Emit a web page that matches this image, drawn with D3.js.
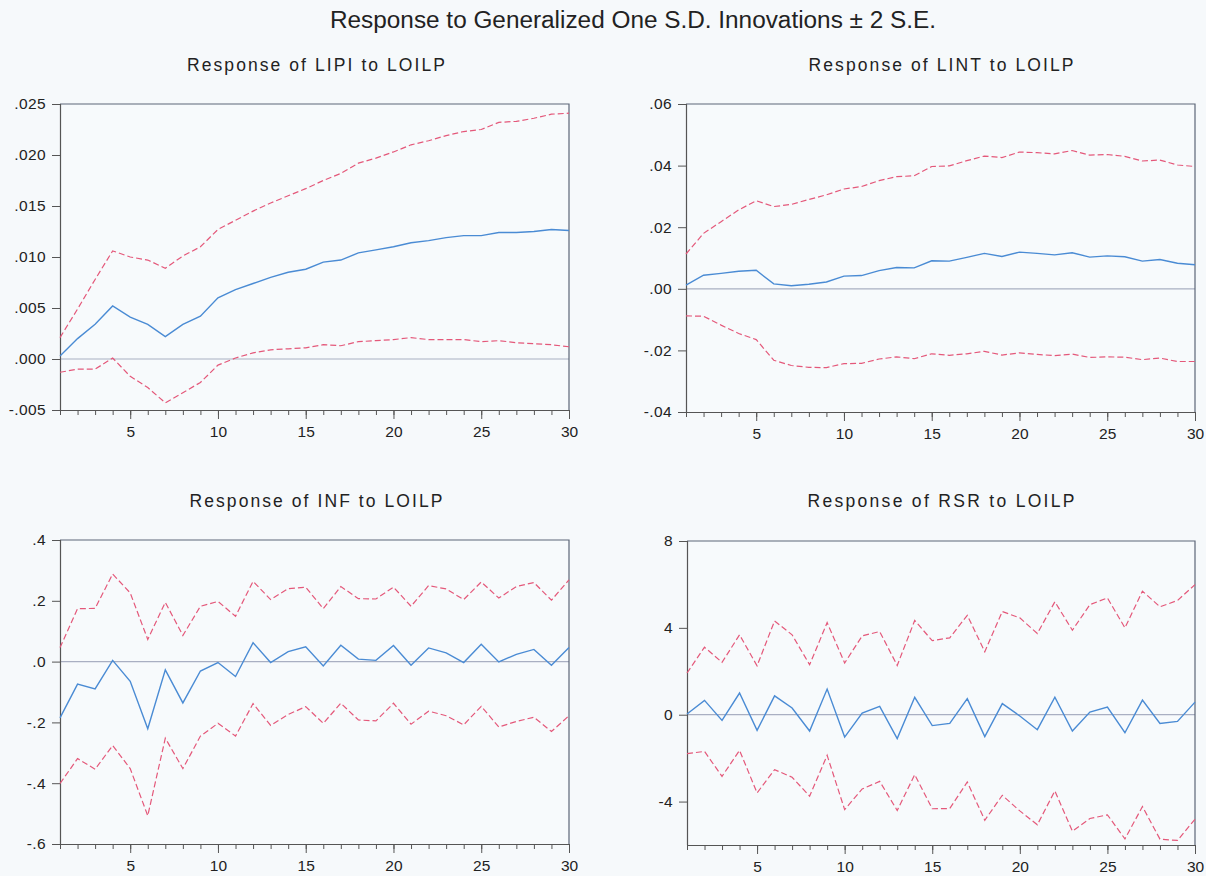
<!DOCTYPE html>
<html><head><meta charset="utf-8">
<script src="https://cdn.jsdelivr.net/npm/d3@7"></script>
<style>
html,body{margin:0;padding:0;background:#f6f9fb;}
svg{display:block;font-family:"Liberation Sans",Arial,sans-serif;}
</style></head><body>
<svg id="chart" width="1206" height="876"></svg>
<script>
const periods = [1,2,3,4,5,6,7,8,9,10,11,12,13,14,15,16,17,18,19,20,21,22,23,24,25,26,27,28,29,30];

const lipiResp  = [0.0003,0.0020,0.0034,0.0052,0.0041,0.0034,0.0022,0.0034,0.0042,0.0060,0.0068,0.0074,0.0080,0.0085,0.0088,0.0095,0.0097,0.0104,0.0107,0.0110,0.0114,0.0116,0.0119,0.0121,0.0121,0.0124,0.0124,0.0125,0.0127,0.0126];
const lipiUpper = [0.0021,0.0049,0.0078,0.0106,0.0100,0.0097,0.0089,0.0101,0.0110,0.0127,0.0136,0.0145,0.0153,0.0160,0.0167,0.0175,0.0182,0.0192,0.0197,0.0203,0.0210,0.0214,0.0219,0.0223,0.0225,0.0232,0.0233,0.0236,0.0240,0.0241];
const lipiLower = [-0.0013,-0.0010,-0.0010,0.0001,-0.0017,-0.0028,-0.0043,-0.0033,-0.0023,-0.0006,0.0001,0.0006,0.0009,0.0010,0.0011,0.0014,0.0013,0.0017,0.0018,0.0019,0.0021,0.0019,0.0019,0.0019,0.0017,0.0018,0.0016,0.0015,0.0014,0.0012];

const lintResp  = [0.0012,0.0044,0.0050,0.0057,0.0060,0.0016,0.0010,0.0015,0.0022,0.0041,0.0043,0.0059,0.0069,0.0068,0.0091,0.0090,0.0102,0.0115,0.0105,0.0119,0.0115,0.0110,0.0117,0.0103,0.0107,0.0104,0.0090,0.0095,0.0083,0.0078];
const lintUpper = [0.0113,0.0180,0.0218,0.0256,0.0286,0.0267,0.0274,0.0290,0.0305,0.0324,0.0332,0.0351,0.0364,0.0367,0.0397,0.0399,0.0416,0.0431,0.0426,0.0444,0.0442,0.0438,0.0449,0.0434,0.0436,0.0430,0.0415,0.0418,0.0402,0.0397];
const lintLower = [-0.0088,-0.0089,-0.0118,-0.0145,-0.0165,-0.0232,-0.0249,-0.0255,-0.0256,-0.0243,-0.0242,-0.0228,-0.0221,-0.0227,-0.0211,-0.0216,-0.0211,-0.0203,-0.0215,-0.0208,-0.0213,-0.0217,-0.0212,-0.0223,-0.0221,-0.0222,-0.0230,-0.0225,-0.0236,-0.0236];

const infResp  = [-0.185,-0.074,-0.090,0.004,-0.065,-0.221,-0.027,-0.136,-0.031,-0.003,-0.049,0.062,-0.003,0.033,0.049,-0.014,0.054,0.008,0.004,0.053,-0.012,0.045,0.029,-0.003,0.057,-0.001,0.024,0.040,-0.012,0.046];
const infUpper = [0.046,0.174,0.175,0.288,0.226,0.073,0.195,0.086,0.182,0.198,0.149,0.264,0.204,0.240,0.245,0.174,0.247,0.207,0.206,0.245,0.182,0.250,0.239,0.204,0.262,0.209,0.247,0.260,0.202,0.269];
const infLower = [-0.401,-0.319,-0.354,-0.276,-0.352,-0.507,-0.252,-0.352,-0.245,-0.203,-0.245,-0.138,-0.210,-0.174,-0.148,-0.203,-0.137,-0.192,-0.195,-0.137,-0.206,-0.163,-0.178,-0.208,-0.147,-0.215,-0.197,-0.183,-0.230,-0.178];

const rsrResp  = [0.03,0.66,-0.26,1.00,-0.72,0.87,0.31,-0.75,1.18,-1.03,0.08,0.38,-1.10,0.80,-0.50,-0.40,0.74,-1.01,0.51,-0.06,-0.69,0.81,-0.75,0.12,0.35,-0.83,0.67,-0.40,-0.31,0.58];
const rsrUpper = [1.92,3.11,2.41,3.68,2.25,4.32,3.68,2.30,4.24,2.38,3.63,3.83,2.27,4.34,3.41,3.54,4.58,2.90,4.75,4.46,3.74,5.20,3.89,5.07,5.38,4.00,5.69,4.97,5.26,5.99];
const rsrLower = [-1.79,-1.69,-2.84,-1.64,-3.60,-2.53,-2.88,-3.75,-1.87,-4.37,-3.42,-3.07,-4.41,-2.76,-4.33,-4.32,-3.10,-4.86,-3.71,-4.43,-5.07,-3.51,-5.36,-4.78,-4.61,-5.72,-4.23,-5.73,-5.79,-4.81];

const mainTitle = "Response to Generalized One S.D. Innovations \u00b1 2 S.E.";
const panelTitles = ["Response of LIPI to LOILP","Response of LINT to LOILP","Response of INF to LOILP","Response of RSR to LOILP"];
const xTickValues = [5,10,15,20,25,30];
const yTicksLIPI = [-0.005,0.000,0.005,0.010,0.015,0.020,0.025];
const yTicksLINT = [-0.04,-0.02,0.00,0.02,0.04,0.06];
const yTicksINF  = [-0.6,-0.4,-0.2,0.0,0.2,0.4];
const yTicksRSR  = [-4,0,4,8];
const yLabelsLIPI = ["-.005",".000",".005",".010",".015",".020",".025"];
const yLabelsLINT = ["-.04","-.02",".00",".02",".04",".06"];
const yLabelsINF  = ["-.6","-.4","-.2",".0",".2",".4"];
const yLabelsRSR  = ["-4","0","4","8"];

const panels = [
  {title:panelTitles[0], resp:lipiResp, up:lipiUpper, lo:lipiLower, dom:[-0.005,0.025], ticks:yTicksLIPI, labels:yLabelsLIPI,
   box:{x0:60,x1:569,y0:104,y1:410}, tx:316, ty:71, tw:258},
  {title:panelTitles[1], resp:lintResp, up:lintUpper, lo:lintLower, dom:[-0.04,0.06], ticks:yTicksLINT, labels:yLabelsLINT,
   box:{x0:686,x1:1195,y0:104,y1:412}, tx:941, ty:71, tw:265},
  {title:panelTitles[2], resp:infResp, up:infUpper, lo:infLower, dom:[-0.6,0.4], ticks:yTicksINF, labels:yLabelsINF,
   box:{x0:60,x1:569,y0:540,y1:844}, tx:316, ty:507, tw:253},
  {title:panelTitles[3], resp:rsrResp, up:rsrUpper, lo:rsrLower, dom:[-6,8], ticks:yTicksRSR, labels:yLabelsRSR,
   box:{x0:687,x1:1195,y0:541,y1:845}, tx:941, ty:507, tw:267}
];

const svg = d3.select("#chart");
svg.append("rect").attr("width",1206).attr("height",876).attr("fill","#f6f9fb");

svg.append("text").attr("x",633).attr("y",28).attr("text-anchor","middle")
  .attr("font-size",23).attr("fill","#222")
  .attr("font-family","'Liberation Sans Narrow','Liberation Sans',Arial,sans-serif")
  .attr("textLength",606).attr("lengthAdjust","spacingAndGlyphs")
  .text(mainTitle);

const tickFont = "'Liberation Sans',Arial,sans-serif";

panels.forEach(p => {
  const b = p.box;
  const x = d3.scaleLinear().domain([1,30]).range([b.x0,b.x1]);
  const y = d3.scaleLinear().domain(p.dom).range([b.y1,b.y0]);
  const g = svg.append("g");

  g.append("text").attr("x",p.tx).attr("y",p.ty).attr("text-anchor","middle")
    .attr("font-size",17.5).attr("fill","#222")
    .attr("textLength",p.tw).attr("lengthAdjust","spacing")
    .text(p.title);

  g.append("rect").attr("x",b.x0).attr("y",b.y0).attr("width",b.x1-b.x0).attr("height",b.y1-b.y0)
    .attr("fill","#f7fafc");

  g.append("line").attr("x1",b.x0).attr("x2",b.x1).attr("y1",y(0)).attr("y2",y(0))
    .attr("stroke","#a9afc2").attr("stroke-width",1.2);

  g.append("path").attr("d",`M${b.x0},${b.y0}H${b.x1}V${b.y1}`)
    .attr("fill","none").attr("stroke","#5d6678").attr("stroke-width",1.2);

  const xAxisMinor = d3.axisBottom(x).tickValues(periods).tickSize(5).tickFormat("");
  g.append("g").attr("transform",`translate(0,${b.y1})`).call(xAxisMinor)
    .call(s=>s.select(".domain").remove())
    .selectAll("line").attr("stroke","#555");
  const xAxis = d3.axisBottom(x).tickValues(xTickValues).tickSize(9).tickPadding(7).tickFormat(d3.format("d"));
  g.append("g").attr("transform",`translate(0,${b.y1})`).call(xAxis)
    .call(s=>s.select(".domain").attr("d",`M${b.x0},0.5H${b.x1}`).attr("stroke","#555").attr("stroke-width",1.2))
    .call(s=>s.selectAll("line").attr("stroke","#555"))
    .call(s=>s.selectAll("text").attr("font-size",15.5).attr("fill","#222").attr("font-family",tickFont));

  const yAxis = d3.axisLeft(y).tickValues(p.ticks).tickSize(8).tickPadding(6)
    .tickFormat((d,i)=>p.labels[i]);
  g.append("g").attr("transform",`translate(${b.x0},0)`).call(yAxis)
    .call(s=>s.select(".domain").attr("d",`M0.5,${b.y0}V${b.y1}`).attr("stroke","#555").attr("stroke-width",1.2))
    .call(s=>s.selectAll("line").attr("stroke","#555"))
    .call(s=>s.selectAll("text").attr("font-size",15.5).attr("fill","#222").attr("font-family",tickFont)
      .attr("letter-spacing","0.4px"));

  const line = d3.line().x((d,i)=>x(periods[i])).y(d=>y(d));
  g.append("path").datum(p.up).attr("d",line).attr("fill","none")
    .attr("stroke","#e4587a").attr("stroke-width",1.2).attr("stroke-dasharray","6,3");
  g.append("path").datum(p.lo).attr("d",line).attr("fill","none")
    .attr("stroke","#e4587a").attr("stroke-width",1.2).attr("stroke-dasharray","6,3");
  g.append("path").datum(p.resp).attr("d",line).attr("fill","none")
    .attr("stroke","#4a8bd4").attr("stroke-width",1.4);
});
</script>
</body></html>
